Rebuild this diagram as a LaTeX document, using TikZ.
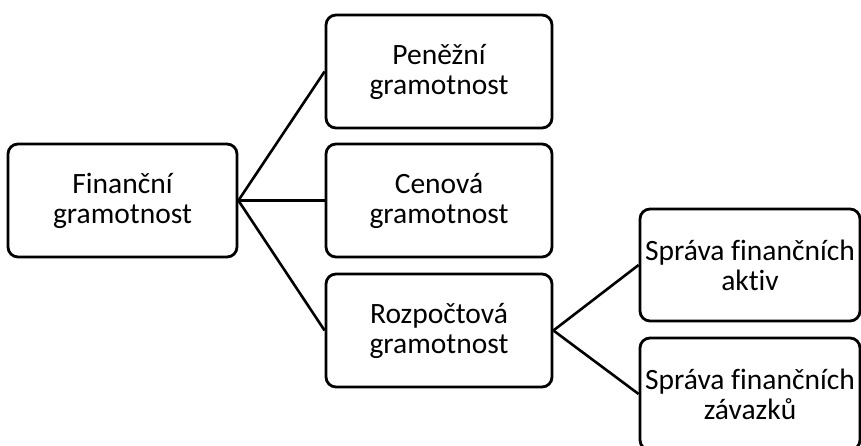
\documentclass[tikz,border=0pt]{standalone}
\usepackage{fontspec}
\setmainfont[Ligatures=CommonOff]{Carlito}

\begin{document}
\begin{tikzpicture}[
    x=1pt, y=-1pt,
    box/.style={draw, line width=2.8pt, rounded corners=10pt, minimum height=113pt, align=center, inner sep=0pt, font=\fontsize{29.5}{30}\selectfont},
    link/.style={line width=2.6pt},
]
\useasboundingbox (0,0) rectangle (861,446);

% Root
\node[box, minimum width=229pt] (fin) at (122.5, 200.5) {Finanční\\gramotnost};

% Middle column
\node[box, minimum width=226pt] (pen) at (439, 71.5) {Peněžní\\gramotnost};
\node[box, minimum width=226pt] (cen) at (439, 200.5) {Cenová\\gramotnost};
\node[box, minimum width=226pt] (roz) at (439, 330.5) {Rozpočtová\\gramotnost};

% Right column
\node[box, minimum width=220pt, minimum height=112pt] (akt) at (750, 265) {Správa finančních\\aktiv};
\node[box, minimum width=220pt, minimum height=112pt] (zav) at (750, 394) {Správa finančních\\závazků};

% Connectors
\draw[link] (fin.east) -- (pen.west);
\draw[link] (fin.east) -- (cen.west);
\draw[link] (fin.east) -- (roz.west);
\draw[link] (roz.east) -- (akt.west);
\draw[link] (roz.east) -- (zav.west);

\end{tikzpicture}
\end{document}
